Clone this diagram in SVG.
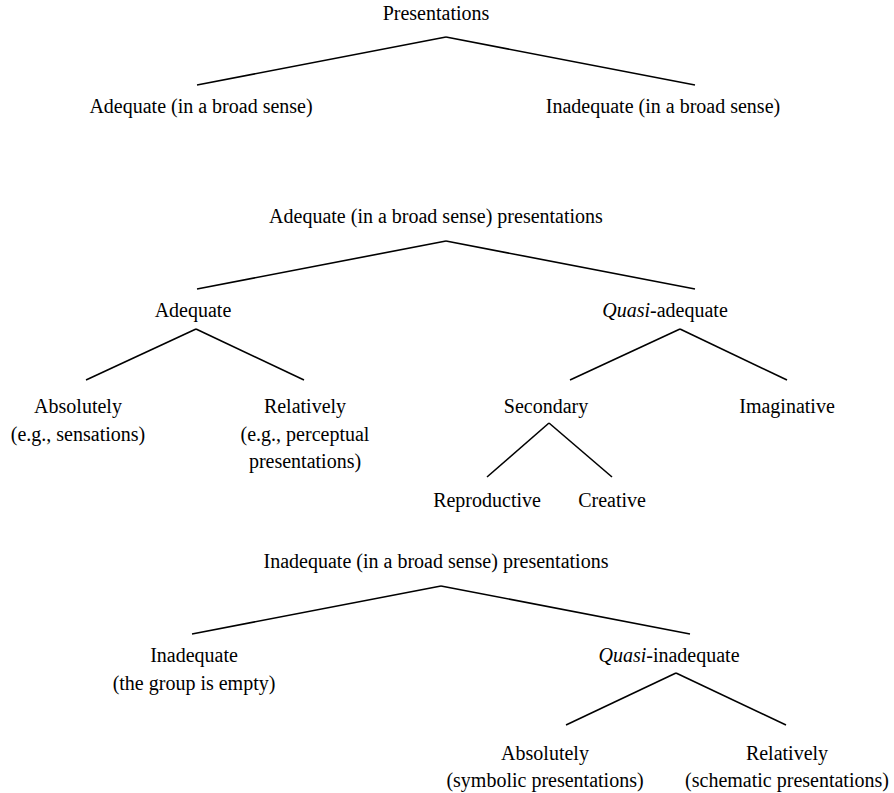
<svg xmlns="http://www.w3.org/2000/svg" width="894" height="793" viewBox="0 0 894 793">
<style>
text { font-family: "Liberation Serif", "Times New Roman", serif; font-size: 20px; fill: #000; text-anchor: middle; }
.it { font-style: italic; }
#connectors line { stroke: #000; stroke-width: 1.6; stroke-linecap: butt; }
</style>
<rect width="894" height="793" fill="#fff"/>
<g id="connectors">
  <line x1="446" y1="37" x2="197" y2="85"/>
  <line x1="446" y1="37" x2="695" y2="85"/>
  <line x1="446" y1="241" x2="197" y2="289"/>
  <line x1="446" y1="241" x2="695" y2="289"/>
  <line x1="196" y1="329" x2="86" y2="380"/>
  <line x1="196" y1="329" x2="304" y2="380"/>
  <line x1="680" y1="329" x2="570" y2="380"/>
  <line x1="680" y1="329" x2="787" y2="380"/>
  <line x1="549" y1="423" x2="487" y2="477"/>
  <line x1="549" y1="423" x2="612" y2="477"/>
  <line x1="441" y1="586" x2="192" y2="634"/>
  <line x1="441" y1="586" x2="690" y2="634"/>
  <line x1="676" y1="673" x2="566" y2="725"/>
  <line x1="676" y1="673" x2="786" y2="725"/>
</g>
<g id="presentations"><text x="436" y="20">Presentations</text></g>
<g id="adequate-broad"><text x="201" y="113">Adequate (in a broad sense)</text></g>
<g id="inadequate-broad"><text x="663" y="113">Inadequate (in a broad sense)</text></g>
<g id="adequate-broad-presentations"><text x="436" y="223">Adequate (in a broad sense) presentations</text></g>
<g id="adequate"><text x="193" y="317">Adequate</text></g>
<g id="quasi-adequate"><text x="665" y="317"><tspan class="it">Quasi</tspan>-adequate</text></g>
<g id="absolutely-1"><text x="78" y="413">Absolutely</text><text x="78" y="441">(e.g., sensations)</text></g>
<g id="relatively-1"><text x="305" y="413">Relatively</text><text x="305" y="441">(e.g., perceptual</text><text x="305" y="468">presentations)</text></g>
<g id="secondary"><text x="546" y="413">Secondary</text></g>
<g id="imaginative"><text x="787" y="413">Imaginative</text></g>
<g id="reproductive"><text x="487" y="507">Reproductive</text></g>
<g id="creative"><text x="612" y="507">Creative</text></g>
<g id="inadequate-broad-presentations"><text x="436" y="568">Inadequate (in a broad sense) presentations</text></g>
<g id="inadequate"><text x="194" y="662">Inadequate</text><text x="194" y="690">(the group is empty)</text></g>
<g id="quasi-inadequate"><text x="669" y="662"><tspan class="it">Quasi</tspan>-inadequate</text></g>
<g id="absolutely-2"><text x="545" y="760">Absolutely</text><text x="545" y="787">(symbolic presentations)</text></g>
<g id="relatively-2"><text x="787" y="760">Relatively</text><text x="787" y="787">(schematic presentations)</text></g>
</svg>
